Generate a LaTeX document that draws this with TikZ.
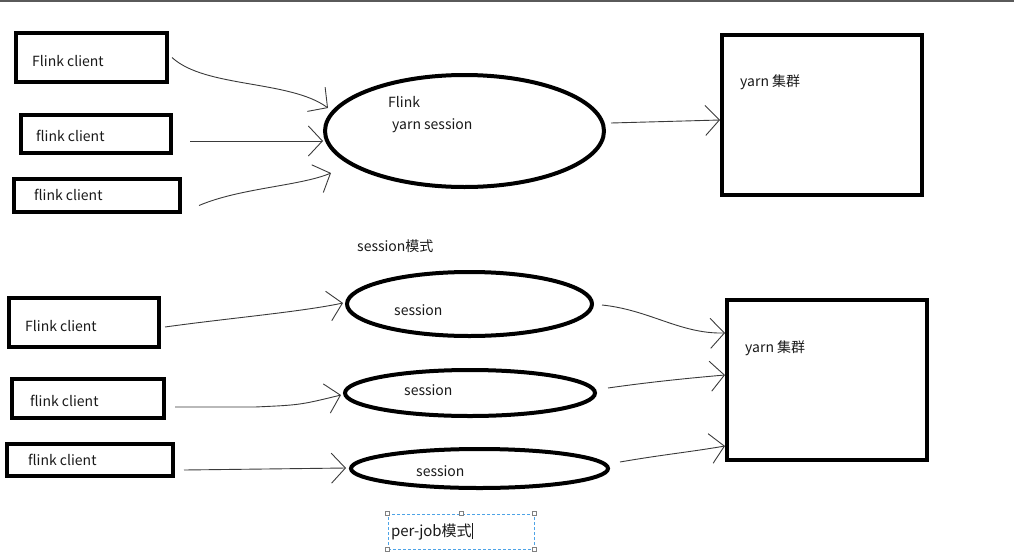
\documentclass[tikz,border=0pt]{standalone}
\usepackage{fontspec}
\setmainfont{Noto Sans CJK SC}
\usetikzlibrary{arrows.meta,calc,shapes.geometric}
\definecolor{conncol}{HTML}{3A3A3A}
\definecolor{selblue}{HTML}{4EA3E6}
\definecolor{barcol}{HTML}{5A5A5A}
\begin{document}
\begin{tikzpicture}[x=1pt,y=-1pt,
  cbox/.style={draw=black,line width=4pt,rectangle,inner sep=0pt},
  oval/.style={draw=black,line width=4pt,ellipse,inner sep=0pt},
  lbl/.style={anchor=west,inner sep=0pt,font=\fontsize{14}{16}\selectfont,text=black!90},
  conn/.style={draw=conncol,line width=0.9pt,
    -{Straight Barb[length=14pt,width=30pt,line width=0.9pt]}},
  handle/.style={draw=gray,fill=white,line width=0.5pt,minimum size=4pt,inner sep=0pt,rectangle}]
\useasboundingbox (0,0) rectangle (1014,554);
\fill[barcol] (0,0) rectangle (1014,2);

% top half
\node[cbox,minimum width=151pt,minimum height=49pt] (c1) at (91.5,57.5) {};
\node[cbox,minimum width=150pt,minimum height=38pt] (c2) at (96,134) {};
\node[cbox,minimum width=166pt,minimum height=33pt] (c3) at (97,195.5) {};
\node[lbl] (t1) at (32,61) {Flink client};
\node[lbl] (t2) at (36,136) {flink client};
\node[lbl] (t3) at (34,195) {flink client};

\node[oval,minimum width=279pt,minimum height=112pt] (e1) at (464.5,131) {};
\node[lbl] (t4) at (388,102) {Flink};
\node[lbl] (t5) at (392,126) {yarn session};

\node[cbox,minimum width=200pt,minimum height=160pt] (y1) at (822,115) {};
\node[lbl] (t6) at (740,82) {yarn 集群};

\draw[conn] ($(c1.east)+(3,0)$) .. controls (205,88) and (290,80) .. ($(e1.west)+(5,-23)$);
\draw[conn] ($(c2.east)+(17,7)$) -- ($(e1.west)+(0,10)$);
\draw[conn] ($(c3.east)+(17,10)$) .. controls (240,188) and (300,186) .. ($(e1.west)+(8,42)$);
\draw[conn] ($(e1.east)+(5,-8)$) -- ($(y1.west)+(0,5)$);

\node[lbl] (t7) at (357,246) {session模式};

% bottom half
\node[cbox,minimum width=150pt,minimum height=49pt] (c4) at (84,322.5) {};
\node[cbox,minimum width=152pt,minimum height=39pt] (c5) at (88,398.5) {};
\node[cbox,minimum width=166pt,minimum height=32pt] (c6) at (90,460) {};
\node[lbl] (t8) at (25,326) {Flink client};
\node[lbl] (t9) at (30,401) {flink client};
\node[lbl] (t10) at (28,460) {flink client};

\node[oval,minimum width=245pt,minimum height=64pt] (e2) at (469.5,304) {};
\node[oval,minimum width=250pt,minimum height=46pt] (e3) at (470,393) {};
\node[oval,minimum width=257pt,minimum height=39pt] (e4) at (479.5,468.5) {};
\node[lbl] (t11) at (394,310) {session};
\node[lbl] (t12) at (404,390) {session};
\node[lbl] (t13) at (416,471) {session};

\node[cbox,minimum width=200pt,minimum height=160pt] (y2) at (827,380) {};
\node[lbl] (t14) at (745,348) {yarn 集群};

\draw[conn] ($(c4.east)+(4,4.5)$) .. controls (230,318) and (300,312) .. ($(e2.west)+(-2,-1)$);
\draw[conn] ($(c5.east)+(9,8.5)$) -- (255,407) .. controls (300,405) .. ($(e3.west)+(-2,2)$);
\draw[conn] ($(c6.east)+(9,10)$) -- ($(e4.west)+(-3,-0.5)$);

\draw[conn] ($(e2.east)+(8,1)$) .. controls (650,310) and (680,334) .. ($(y2.west)+(0,-47)$);
\draw[conn] ($(e3.east)+(11,-5)$) .. controls (650,382) and (690,378) .. ($(y2.west)+(0,-5)$);
\draw[conn] ($(e4.east)+(10,-6.5)$) .. controls (660,455) and (690,452) .. ($(y2.west)+(0,66)$);

% per-job text box being edited
\node[draw=selblue,dashed,dash pattern=on 3pt off 2pt,line width=0.8pt,
      minimum width=146pt,minimum height=35pt,text width=140pt,inner xsep=3pt,
      align=left,font=\fontsize{15}{17}\selectfont,text=black!90] (pj) at (461,531.5)
  {per-job模式\rule[-3pt]{0.8pt}{16pt}};
\node[handle] (h1) at (pj.north west) {};
\node[handle] (h2) at (pj.north) {};
\node[handle] (h3) at (pj.north east) {};
\node[handle] (h4) at (pj.south west) {};
\node[handle] (h5) at (pj.south east) {};
\end{tikzpicture}
\end{document}
